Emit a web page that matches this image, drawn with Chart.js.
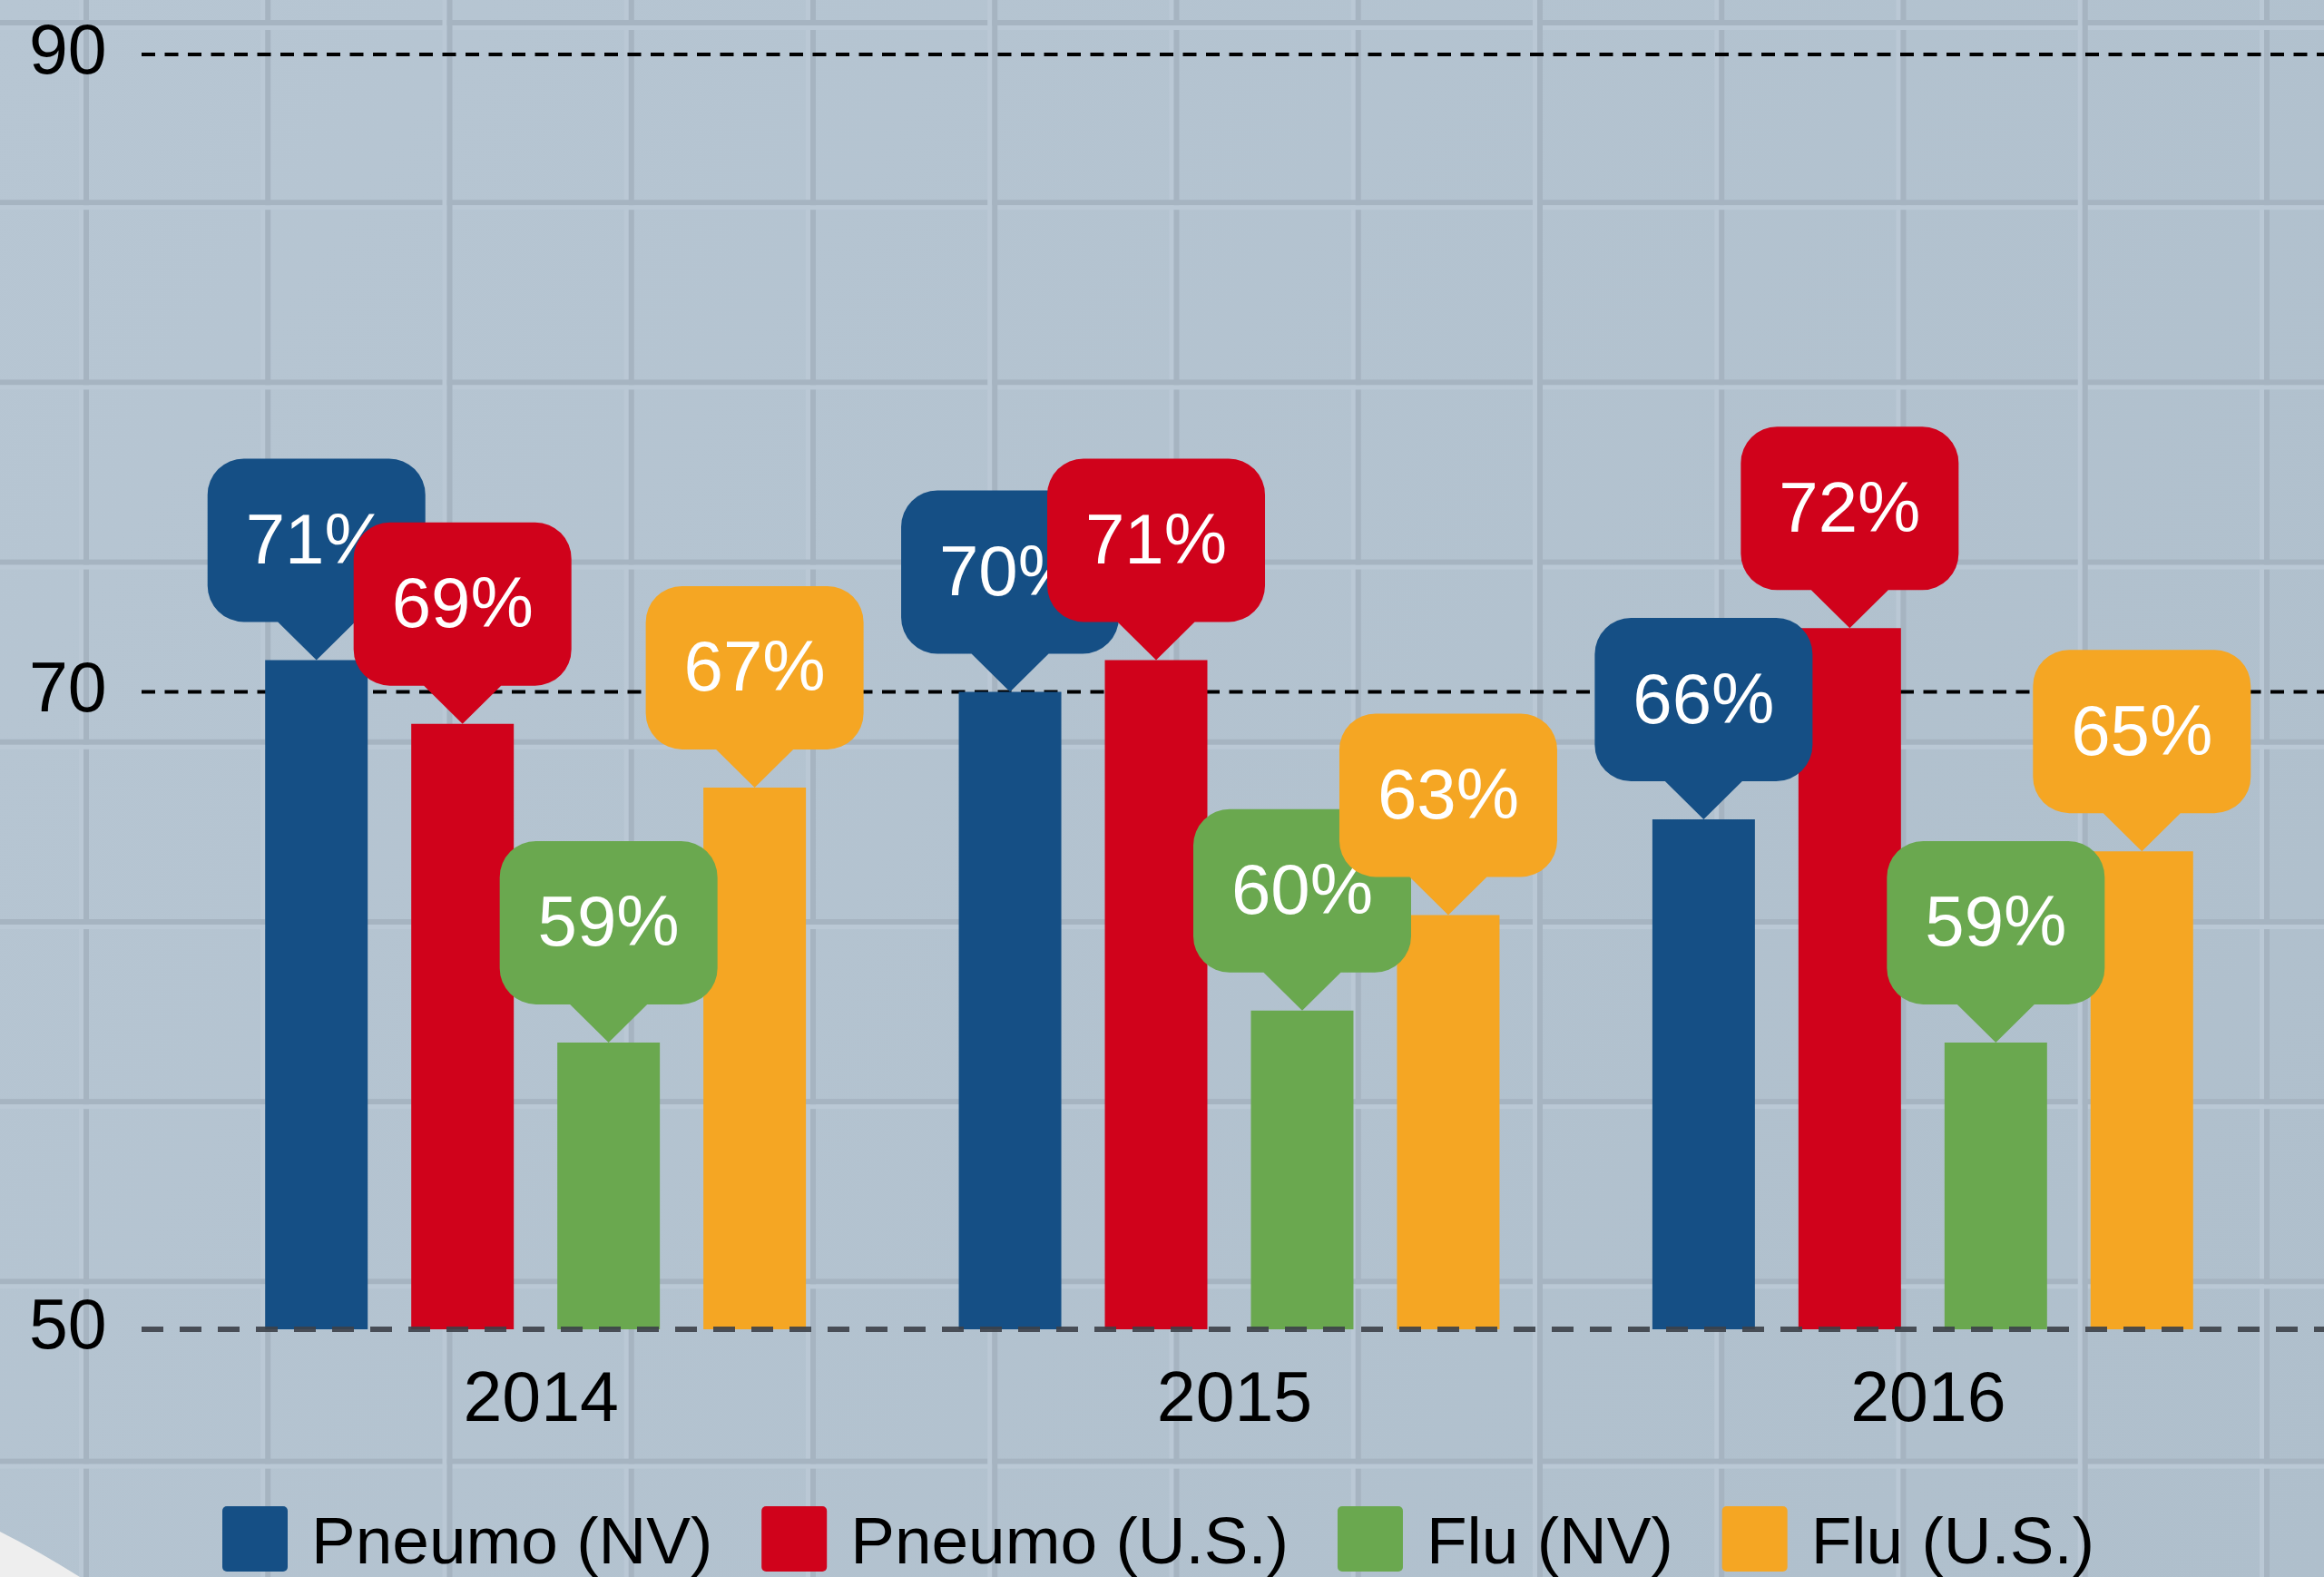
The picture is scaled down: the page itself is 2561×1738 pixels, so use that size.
<!DOCTYPE html>
<html>
<head>
<meta charset="utf-8">
<script src="https://cdn.jsdelivr.net/npm/chart.js@4.4.1/dist/chart.umd.min.js"></script>
<style>
  html, body { margin: 0; padding: 0; overflow: hidden; background: #b3c3d0; }
  #wrap { position: relative; width: 2561px; height: 1738px; }
</style>
</head>
<body>
<div id="wrap"><canvas id="c"></canvas></div>
<script>
// ---- data ----
const categories = ['2014', '2015', '2016'];
const seriesLabels = ['Pneumo (NV)', 'Pneumo (U.S.)', 'Flu (NV)', 'Flu (U.S.)'];
const pneumoNV = [71, 70, 66];
const pneumoUS = [69, 71, 72];
const fluNV = [59, 60, 59];
const fluUS = [67, 63, 65];
const yTicks = [50, 70, 90];

// ---- styles ----
const colors = ['#154f85', '#d0021b', '#6aa84f', '#f5a623'];
const FONT = '"Liberation Sans", Arial, Helvetica, sans-serif';
Chart.defaults.font.family = FONT;

const backgroundPlugin = {
  id: 'bgTiles',
  beforeDraw(chart) {
    const ctx = chart.ctx, W = chart.width, H = chart.height;
    ctx.save();
    const g = ctx.createLinearGradient(0, 0, W, H);
    g.addColorStop(0, '#b7c6d3');
    g.addColorStop(1, '#afbfcc');
    ctx.fillStyle = g;
    ctx.fillRect(0, 0, W, H);
    const vx = [], hy = [];
    for (let k = 0; k < 14; k++) vx.push(95 + 200.25 * k);
    for (let k = 0; k < 10; k++) hy.push(22 + 198.2 * k);
    const drawV = (x) => {
      ctx.fillStyle = '#bac8d5'; ctx.fillRect(x - 8, 0, 5, H);
      ctx.fillStyle = '#a6b4c1'; ctx.fillRect(x - 3, 0, 6, H);
    };
    const drawH = (y) => {
      ctx.fillStyle = '#a6b4c1'; ctx.fillRect(0, y, W, 6);
      ctx.fillStyle = '#bac8d5'; ctx.fillRect(0, y + 6, W, 5);
    };
    vx.forEach((x, k) => { if (k % 3 !== 2) drawV(x); });
    hy.forEach(drawH);
    vx.forEach((x, k) => { if (k % 3 === 2) drawV(x); });
    // light corner shape bottom-left
    ctx.fillStyle = '#eeeeee';
    ctx.beginPath();
    ctx.moveTo(0, 1688);
    ctx.quadraticCurveTo(40, 1708, 88, 1738);
    ctx.lineTo(0, 1738);
    ctx.closePath();
    ctx.fill();
    ctx.restore();
  }
};

function hLine(chart, value, color, width, dash) {
  const ctx = chart.ctx, y = chart.scales.y.getPixelForValue(value);
  ctx.save();
  ctx.strokeStyle = color; ctx.lineWidth = width; ctx.setLineDash(dash);
  ctx.beginPath(); ctx.moveTo(156, y); ctx.lineTo(chart.width, y); ctx.stroke();
  ctx.restore();
}

const gridPlugin = {
  id: 'dashGrid',
  beforeDatasetsDraw(chart) {
    yTicks.slice(1).forEach(v => hLine(chart, v, '#000000', 4, [15, 10.5]));
  },
  afterDatasetsDraw(chart) {
    hLine(chart, yTicks[0], 'rgba(60,64,72,0.9)', 6, [24, 18]);
  }
};

function roundedBubble(ctx, cx, tipY, color, text) {
  const w = 240, h = 180, r = 40, ph = 42, pw = 85;
  const bottom = tipY - ph, top = bottom - h, left = cx - w / 2, right = cx + w / 2;
  ctx.beginPath();
  ctx.moveTo(left + r, top);
  ctx.lineTo(right - r, top);
  ctx.arcTo(right, top, right, top + r, r);
  ctx.lineTo(right, bottom - r);
  ctx.arcTo(right, bottom, right - r, bottom, r);
  ctx.lineTo(cx + pw / 2, bottom);
  ctx.lineTo(cx, tipY);
  ctx.lineTo(cx - pw / 2, bottom);
  ctx.lineTo(left + r, bottom);
  ctx.arcTo(left, bottom, left, bottom - r, r);
  ctx.lineTo(left, top + r);
  ctx.arcTo(left, top, left + r, top, r);
  ctx.closePath();
  ctx.fillStyle = color;
  ctx.fill();
  ctx.fillStyle = '#ffffff';
  ctx.font = '78px ' + FONT;
  ctx.textAlign = 'center';
  ctx.textBaseline = 'middle';
  ctx.fillText(text, cx, top + h / 2 + 4);
}

const bubblePlugin = {
  id: 'bubbles',
  afterDatasetsDraw(chart) {
    const ctx = chart.ctx;
    ctx.save();
    chart.data.datasets.forEach((ds, di) => {
      const meta = chart.getDatasetMeta(di);
      meta.data.forEach((bar, i) => {
        roundedBubble(ctx, bar.x, bar.y, ds.backgroundColor, ds.data[i] + '%');
      });
    });
    ctx.restore();
  }
};

const legendPlugin = {
  id: 'customLegend',
  afterDraw(chart) {
    const ctx = chart.ctx;
    ctx.save();
    ctx.font = '73px ' + FONT;
    ctx.textBaseline = 'alphabetic';
    ctx.textAlign = 'left';
    let x = 245;
    const boxTop = 1660, box = 72, gap = 26, spacing = 54, baseline = 1723;
    chart.data.datasets.forEach(ds => {
      ctx.fillStyle = ds.backgroundColor;
      ctx.beginPath();
      ctx.roundRect(x, boxTop, box, box, 5);
      ctx.fill();
      ctx.fillStyle = '#000000';
      ctx.fillText(ds.label, x + box + gap, baseline);
      x += box + gap + ctx.measureText(ds.label).width + spacing;
    });
    ctx.restore();
  }
};

const seriesValues = [pneumoNV, pneumoUS, fluNV, fluUS];

new Chart(document.getElementById('c'), {
  type: 'bar',
  data: {
    labels: categories,
    datasets: seriesValues.map((vals, i) => ({
      label: seriesLabels[i],
      data: vals,
      backgroundColor: colors[i],
      borderWidth: 0,
      categoryPercentage: 0.8424,
      barPercentage: 0.7019
    }))
  },
  options: {
    responsive: true,
    maintainAspectRatio: false,
    animation: false,
    devicePixelRatio: 1,
    layout: { padding: { top: 60, right: 60, bottom: 0, left: 32 } },
    plugins: { legend: { display: false }, tooltip: { enabled: false } },
    scales: {
      x: {
        grid: { display: false, drawTicks: false },
        border: { display: false },
        ticks: { color: '#000', font: { size: 77 }, padding: 34, labelOffset: 6 },
        afterFit(s) { s.height = 273; }
      },
      y: {
        min: yTicks[0],
        max: yTicks[yTicks.length - 1],
        afterBuildTicks(s) { s.ticks = yTicks.map(v => ({ value: v })); },
        grid: { display: false, drawTicks: false },
        border: { display: false },
        ticks: { color: '#000', font: { size: 77 }, padding: 0, crossAlign: 'far' },
        afterFit(s) { s.width = 176; }
      }
    }
  },
  plugins: [backgroundPlugin, gridPlugin, bubblePlugin, legendPlugin]
});
</script>
</body>
</html>
